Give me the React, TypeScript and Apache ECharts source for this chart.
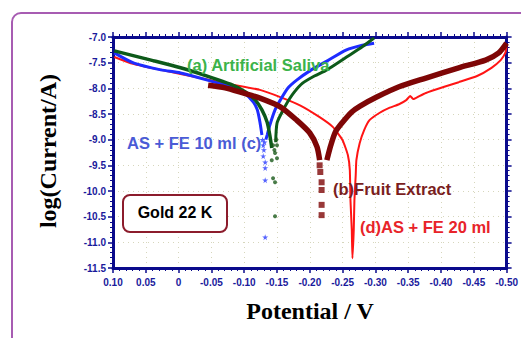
import React, { useEffect, useRef } from "react";
import * as echarts from "echarts";

// Tick settings
const xTicks = { min: -0.5, max: 0.1, interval: 0.05 };
const yTicks = { min: -11.5, max: -7.0, interval: 0.5 };

// (a) Artificial Saliva  [potential V, log(I/A)]
const salivaCathodic: [number, number][] = [
  [0.098, -7.27], [0.042, -7.45], [-0.003, -7.6], [-0.048, -7.78], [-0.079, -7.92],
  [-0.102, -8.07], [-0.117, -8.23], [-0.127, -8.42], [-0.135, -8.66], [-0.139, -8.91], [-0.142, -9.16],
];
const salivaDots: [number, number][] = [
  [-0.144, -9.11], [-0.15, -9.11], [-0.147, -9.26], [-0.15, -9.36], [-0.142, -9.4],
  [-0.144, -9.75], [-0.147, -9.83], [-0.147, -10.49], [-0.146, -9.2], [-0.149, -9.0],
];
const salivaAnodic: [number, number][] = [
  [-0.148, -9.05], [-0.15, -8.68], [-0.157, -8.48], [-0.165, -8.29], [-0.176, -8.08], [-0.189, -7.9],
  [-0.207, -7.76], [-0.226, -7.64], [-0.256, -7.39], [-0.28, -7.19], [-0.298, -7.02],
];

// (c) AS + FE 10 ml
const as10Cathodic: [number, number][] = [
  [0.098, -7.31], [0.068, -7.51], [0.027, -7.64], [-0.003, -7.7], [-0.044, -7.84], [-0.083, -7.99],
  [-0.102, -8.11], [-0.114, -8.27], [-0.12, -8.42], [-0.124, -8.66], [-0.127, -8.91],
];
const as10Stars: [number, number][] = [
  [-0.129, -9.11], [-0.13, -9.2], [-0.129, -9.32], [-0.132, -9.44], [-0.132, -9.55],
  [-0.132, -9.79], [-0.132, -10.9], [-0.128, -9.0], [-0.131, -9.05],
];
const as10Anodic: [number, number][] = [
  [-0.133, -9.0], [-0.135, -8.91], [-0.139, -8.72], [-0.147, -8.42], [-0.155, -8.23], [-0.167, -7.99],
  [-0.18, -7.84], [-0.2, -7.66], [-0.226, -7.47], [-0.256, -7.25], [-0.28, -7.16], [-0.298, -7.12],
];

// (b) Fruit Extract
const fruitCathodic: [number, number][] = [
  [-0.045, -7.94], [-0.071, -7.99], [-0.098, -8.09], [-0.124, -8.19], [-0.155, -8.36],
  [-0.18, -8.62], [-0.2, -8.87], [-0.211, -9.14], [-0.215, -9.4],
];
const fruitSquares: [number, number][] = [
  [-0.215, -9.5], [-0.216, -9.63], [-0.218, -9.83], [-0.218, -9.98], [-0.218, -10.27], [-0.218, -10.47],
];
const fruitAnodic: [number, number][] = [
  [-0.226, -9.4], [-0.232, -9.11], [-0.239, -8.85], [-0.25, -8.66], [-0.264, -8.46], [-0.276, -8.35],
  [-0.302, -8.17], [-0.336, -7.97], [-0.377, -7.8], [-0.427, -7.6], [-0.468, -7.45], [-0.488, -7.31], [-0.5, -7.12],
];

// (d) AS + FE 20 ml
const as20Curve: [number, number][] = [
  [0.098, -7.39], [0.073, -7.51], [0.027, -7.64], [-0.033, -7.8], [-0.079, -7.92], [-0.124, -8.03],
  [-0.155, -8.17], [-0.185, -8.33], [-0.215, -8.56], [-0.235, -8.75], [-0.25, -9.01], [-0.258, -9.3],
  [-0.261, -9.59], [-0.262, -10.18], [-0.264, -10.76], [-0.265, -11.31],
  [-0.267, -10.76], [-0.268, -10.18], [-0.27, -9.69], [-0.271, -9.4], [-0.276, -9.07], [-0.283, -8.81],
  [-0.291, -8.62], [-0.306, -8.48], [-0.321, -8.38], [-0.336, -8.31], [-0.347, -8.23], [-0.353, -8.15],
  [-0.358, -8.21], [-0.367, -8.15], [-0.377, -8.09], [-0.405, -7.97], [-0.427, -7.88], [-0.455, -7.76],
  [-0.477, -7.6], [-0.491, -7.45], [-0.498, -7.31], [-0.5, -7.19],
];

const NAVY = "#0a0a8c";
const STAR = "path://M50,0 L61,35 L98,35 L68,57 L79,91 L50,70 L21,91 L32,57 L2,35 L39,35 Z";

export default function App() {
  const ref = useRef<HTMLDivElement>(null);
  useEffect(() => {
    if (!ref.current) return;
    const chart = echarts.init(ref.current, null, { renderer: "svg" });
    const axisCommon = {
      axisLine: { show: true, onZero: false, lineStyle: { color: NAVY, width: 3 } },
      axisTick: { show: true, length: 5, lineStyle: { color: NAVY, width: 1.5 } },
      minorTick: { show: true, splitNumber: 5, length: 3, lineStyle: { color: NAVY, width: 1 } },
    };
    const labelStyle = { color: "#1a1a9c", fontSize: 10, fontWeight: "bold" as const, fontFamily: "Arial, 'Liberation Sans'" };
    const line = (data: [number, number][], color: string, width: number, z: number) => ({
      type: "line", data, showSymbol: false, symbol: "none", z, smooth: 0.25,
      lineStyle: { color, width }, itemStyle: { color },
    });
    const dots = (data: [number, number][], color: string, symbol: string, size: number, z: number) => ({
      type: "scatter", data, symbol, symbolSize: size, z, itemStyle: { color },
    });
    const annot = "bold 16.5px 'Liberation Sans', Arial";
    chart.setOption({
      animation: false,
      grid: { left: 113, right: 13, top: 37, bottom: 70 },
      xAxis: [
        {
          type: "value", inverse: true, ...xTicks, position: "bottom",
          ...axisCommon,
          axisLabel: {
            ...labelStyle, margin: 9,
            formatter: (v: number) => (Math.abs(v) < 1e-9 ? "0" : v.toFixed(2)),
          },
          splitLine: { show: true, lineStyle: { color: "#d6d6bc", type: [1, 4], width: 1 } },
        },
        {
          type: "value", inverse: true, ...xTicks, position: "top",
          ...axisCommon, axisLabel: { show: false }, splitLine: { show: false },
        },
      ],
      yAxis: [
        {
          type: "value", ...yTicks, position: "left",
          ...axisCommon,
          axisLabel: { ...labelStyle, margin: 7, formatter: (v: number) => v.toFixed(1) },
          splitLine: { show: true, lineStyle: { color: "#d6d6bc", type: [1, 4], width: 1 } },
        },
        {
          type: "value", ...yTicks, position: "right",
          ...axisCommon, axisLabel: { show: false }, splitLine: { show: false },
        },
      ],
      series: [
        { ...line(as20Curve, "#ff1414", 2, 2), smooth: 0.15 },
        line(as10Cathodic, "#1e2cff", 3, 3),
        line(as10Anodic, "#1e2cff", 3, 3),
        dots(as10Stars, "#2a3cff", STAR, 6, 3),
        line(salivaCathodic, "#0d5a1a", 3.5, 4),
        line(salivaAnodic, "#0d5a1a", 3, 4),
        dots(salivaDots, "#1a5a1a", "circle", 4, 4),
        line(fruitCathodic, "#7e0606", 5.5, 5),
        line(fruitAnodic, "#7e0606", 5.5, 5),
        dots(fruitSquares, "#7e0606", "rect", 6, 5),
      ],
      graphic: [
        {
          type: "rect", silent: true, z: -1,
          shape: { x: 12, y: 13, width: 560, height: 380, r: 9 },
          style: { fill: "none", stroke: "#a75cb2", lineWidth: 2 },
        },
        {
          type: "text", x: 48, y: 151, rotation: Math.PI / 2,
          style: {
            text: "log(Current/A)", font: "bold 24px 'Liberation Serif', 'Times New Roman', serif",
            fill: "#000", align: "center", verticalAlign: "middle",
          },
        },
        {
          type: "text", x: 310, y: 311,
          style: {
            text: "Potential / V", font: "bold 24px 'Liberation Serif', 'Times New Roman', serif",
            fill: "#000", align: "center", verticalAlign: "middle",
          },
        },
        {
          type: "text", x: 187, y: 65, z: 10,
          style: { text: "(a) Artificial Saliva", font: annot, fill: "#3cb34a", align: "left", verticalAlign: "middle" },
        },
        {
          type: "text", x: 127, y: 143, z: 10,
          style: { text: "AS + FE 10 ml (c)", font: annot, fill: "#4a5bd6", align: "left", verticalAlign: "middle" },
        },
        {
          type: "text", x: 333, y: 189, z: 10,
          style: { text: "(b)Fruit Extract", font: annot, fill: "#7a1e1e", align: "left", verticalAlign: "middle" },
        },
        {
          type: "text", x: 360, y: 227, z: 10,
          style: { text: "(d)AS + FE 20 ml", font: annot, fill: "#e8242a", align: "left", verticalAlign: "middle" },
        },
        {
          type: "rect", z: 10,
          shape: { x: 123, y: 195, width: 104, height: 37, r: 7 },
          style: { fill: "#fff", stroke: "#8c1c2c", lineWidth: 2 },
        },
        {
          type: "text", x: 175, y: 212, z: 11,
          style: { text: "Gold 22 K", font: "bold 16px 'Liberation Sans', Arial", fill: "#000", align: "center", verticalAlign: "middle" },
        },
      ],
    });
    return () => chart.dispose();
  }, []);
  return <div ref={ref} style={{ width: 521, height: 338, position: "absolute", left: 0, top: 0 }} />;
}
